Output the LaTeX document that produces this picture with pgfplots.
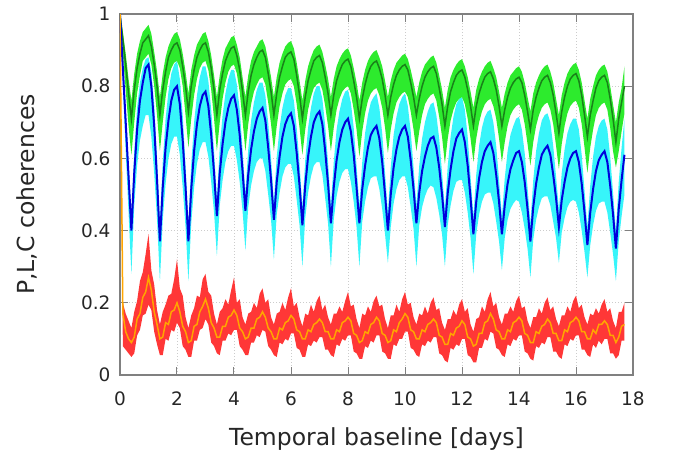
\documentclass[border=0pt]{standalone}
\usepackage{pgfplots}
\pgfplotsset{compat=1.18}
\usepackage{pgfplotstable}
\usepgfplotslibrary{fillbetween}
\usepackage{fontspec}
\setmainfont{DejaVu Sans}

\definecolor{gband}{RGB}{45,235,45}
\definecolor{gline}{RGB}{25,130,25}
\definecolor{cband}{RGB}{55,245,250}
\definecolor{bline}{RGB}{0,0,220}
\definecolor{rband}{RGB}{255,55,55}
\definecolor{oline}{RGB}{255,165,0}

% x, green (mean/low/high), blue (mean/low/high), orange (mean/low/high)
\pgfplotstableread{
x gm glo ghi bm blo bhi om rlo rhi
0.0 1 1 1 1 1 1 1 1 1
0.1 0.93 0.89 0.95 0.85 0.80 0.88 0.17 0.08 0.20
0.2 0.86 0.79 0.89 0.70 0.62 0.74 0.12 0.07 0.17
0.3 0.78 0.69 0.82 0.55 0.45 0.59 0.10 0.06 0.15
0.4 0.71 0.61 0.76 0.40 0.28 0.44 0.09 0.05 0.13
0.5 0.79 0.70 0.835 0.56 0.47 0.62 0.105 0.06 0.175
0.6 0.85 0.78 0.89 0.68 0.58 0.74 0.155 0.11 0.205
0.7 0.89 0.83 0.925 0.76 0.65 0.81 0.17 0.125 0.26
0.8 0.92 0.87 0.95 0.81 0.69 0.85 0.215 0.165 0.285
0.9 0.93 0.88 0.96 0.85 0.72 0.875 0.23 0.17 0.335
1.0 0.94 0.89 0.97 0.86 0.72 0.88 0.27 0.195 0.39
1.1 0.91 0.86 0.945 0.80 0.66 0.84 0.235 0.18 0.29
1.2 0.86 0.80 0.895 0.69 0.56 0.75 0.175 0.12 0.25
1.3 0.80 0.72 0.84 0.54 0.43 0.60 0.14 0.085 0.18
1.4 0.72 0.62 0.77 0.37 0.26 0.42 0.10 0.055 0.14
1.5 0.79 0.70 0.835 0.52 0.43 0.59 0.105 0.055 0.175
1.6 0.84 0.77 0.88 0.63 0.53 0.71 0.145 0.10 0.195
1.7 0.88 0.82 0.91 0.705 0.60 0.785 0.14 0.095 0.22
1.8 0.90 0.85 0.93 0.76 0.64 0.835 0.175 0.125 0.225
1.9 0.915 0.865 0.945 0.79 0.66 0.86 0.18 0.12 0.265
2.0 0.92 0.87 0.95 0.80 0.66 0.87 0.20 0.145 0.32
2.1 0.90 0.85 0.93 0.75 0.61 0.82 0.175 0.13 0.24
2.2 0.855 0.80 0.89 0.65 0.52 0.72 0.135 0.08 0.22
2.3 0.80 0.72 0.84 0.52 0.41 0.58 0.12 0.07 0.16
2.4 0.73 0.63 0.78 0.37 0.26 0.42 0.09 0.05 0.13
2.5 0.80 0.71 0.845 0.515 0.42 0.585 0.095 0.05 0.165
2.6 0.845 0.775 0.885 0.62 0.52 0.70 0.135 0.095 0.185
2.7 0.88 0.82 0.915 0.695 0.585 0.775 0.14 0.095 0.22
2.8 0.90 0.85 0.93 0.745 0.625 0.825 0.175 0.125 0.215
2.9 0.915 0.865 0.945 0.775 0.645 0.855 0.19 0.13 0.265
3.0 0.92 0.87 0.95 0.785 0.645 0.855 0.21 0.155 0.28
3.1 0.895 0.845 0.925 0.745 0.605 0.815 0.185 0.14 0.23
3.2 0.85 0.79 0.885 0.665 0.535 0.735 0.145 0.09 0.22
3.3 0.79 0.71 0.83 0.56 0.45 0.62 0.13 0.08 0.17
3.4 0.72 0.62 0.77 0.44 0.33 0.49 0.105 0.06 0.14
3.5 0.79 0.70 0.83 0.56 0.47 0.63 0.105 0.055 0.175
3.6 0.835 0.765 0.875 0.64 0.54 0.72 0.135 0.095 0.185
3.7 0.87 0.81 0.905 0.70 0.59 0.78 0.135 0.095 0.21
3.8 0.89 0.84 0.92 0.74 0.62 0.82 0.16 0.115 0.195
3.9 0.905 0.855 0.935 0.765 0.635 0.845 0.165 0.11 0.235
4.0 0.91 0.86 0.94 0.775 0.635 0.845 0.18 0.125 0.27
4.1 0.885 0.835 0.915 0.735 0.595 0.805 0.165 0.125 0.20
4.2 0.845 0.785 0.88 0.665 0.535 0.735 0.13 0.08 0.21
4.3 0.785 0.705 0.825 0.565 0.455 0.625 0.12 0.07 0.16
4.4 0.72 0.62 0.77 0.455 0.345 0.505 0.10 0.055 0.14
4.5 0.785 0.695 0.83 0.555 0.465 0.625 0.105 0.055 0.17
4.6 0.83 0.75 0.87 0.625 0.525 0.705 0.13 0.09 0.175
4.7 0.86 0.785 0.895 0.675 0.565 0.755 0.13 0.09 0.20
4.8 0.88 0.805 0.91 0.71 0.59 0.79 0.155 0.11 0.185
4.9 0.895 0.82 0.925 0.73 0.60 0.81 0.16 0.105 0.225
5.0 0.90 0.825 0.93 0.74 0.60 0.81 0.175 0.125 0.24
5.1 0.88 0.805 0.91 0.705 0.565 0.775 0.16 0.12 0.20
5.2 0.835 0.755 0.87 0.63 0.50 0.70 0.13 0.08 0.21
5.3 0.785 0.695 0.825 0.54 0.43 0.60 0.12 0.07 0.16
5.4 0.72 0.62 0.77 0.43 0.32 0.48 0.10 0.055 0.14
5.5 0.78 0.69 0.825 0.535 0.445 0.605 0.10 0.05 0.17
5.6 0.825 0.745 0.865 0.605 0.505 0.685 0.13 0.09 0.175
5.7 0.855 0.78 0.89 0.66 0.55 0.74 0.125 0.085 0.20
5.8 0.88 0.805 0.91 0.695 0.575 0.775 0.145 0.10 0.18
5.9 0.89 0.815 0.92 0.715 0.585 0.795 0.15 0.095 0.215
6.0 0.895 0.82 0.925 0.725 0.585 0.795 0.165 0.115 0.24
6.1 0.875 0.80 0.905 0.69 0.55 0.76 0.155 0.115 0.19
6.2 0.83 0.75 0.865 0.615 0.485 0.685 0.125 0.075 0.20
6.3 0.775 0.685 0.815 0.525 0.415 0.585 0.12 0.07 0.16
6.4 0.71 0.61 0.76 0.415 0.30 0.465 0.10 0.05 0.135
6.5 0.77 0.68 0.815 0.525 0.435 0.595 0.10 0.05 0.17
6.6 0.815 0.735 0.855 0.605 0.505 0.685 0.125 0.085 0.165
6.7 0.845 0.77 0.88 0.66 0.55 0.74 0.12 0.08 0.195
6.8 0.87 0.795 0.90 0.70 0.58 0.78 0.14 0.095 0.175
6.9 0.88 0.805 0.91 0.72 0.59 0.80 0.145 0.09 0.205
7.0 0.885 0.81 0.915 0.73 0.59 0.80 0.155 0.105 0.22
7.1 0.865 0.79 0.895 0.695 0.555 0.765 0.145 0.105 0.18
7.2 0.825 0.745 0.86 0.62 0.49 0.69 0.12 0.07 0.195
7.3 0.78 0.69 0.82 0.53 0.42 0.59 0.12 0.07 0.16
7.4 0.72 0.62 0.77 0.42 0.30 0.47 0.10 0.055 0.14
7.5 0.775 0.685 0.82 0.52 0.43 0.59 0.10 0.05 0.17
7.6 0.815 0.735 0.855 0.595 0.495 0.68 0.125 0.085 0.17
7.7 0.84 0.765 0.875 0.645 0.535 0.73 0.12 0.08 0.19
7.8 0.86 0.785 0.89 0.68 0.56 0.765 0.145 0.10 0.175
7.9 0.87 0.795 0.90 0.70 0.57 0.785 0.15 0.095 0.205
8.0 0.875 0.80 0.905 0.71 0.57 0.79 0.16 0.11 0.23
8.1 0.855 0.78 0.885 0.675 0.535 0.755 0.15 0.11 0.19
8.2 0.815 0.735 0.85 0.61 0.48 0.685 0.115 0.065 0.195
8.3 0.77 0.68 0.81 0.52 0.41 0.58 0.11 0.06 0.155
8.4 0.71 0.605 0.76 0.42 0.30 0.47 0.09 0.045 0.13
8.5 0.765 0.675 0.81 0.515 0.425 0.59 0.095 0.045 0.17
8.6 0.805 0.725 0.845 0.58 0.48 0.67 0.12 0.08 0.165
8.7 0.835 0.76 0.87 0.63 0.52 0.72 0.115 0.075 0.19
8.8 0.855 0.78 0.885 0.665 0.545 0.755 0.14 0.095 0.175
8.9 0.865 0.79 0.895 0.68 0.55 0.77 0.145 0.09 0.205
9.0 0.87 0.795 0.90 0.69 0.55 0.78 0.16 0.11 0.22
9.1 0.85 0.775 0.88 0.655 0.515 0.74 0.15 0.11 0.19
9.2 0.82 0.74 0.855 0.59 0.46 0.67 0.115 0.065 0.195
9.3 0.775 0.685 0.815 0.50 0.39 0.56 0.11 0.06 0.155
9.4 0.72 0.615 0.77 0.40 0.31 0.45 0.09 0.045 0.13
9.5 0.77 0.68 0.815 0.50 0.41 0.575 0.095 0.045 0.165
9.6 0.805 0.725 0.845 0.575 0.475 0.665 0.125 0.085 0.165
9.7 0.83 0.755 0.865 0.625 0.515 0.715 0.12 0.08 0.195
9.8 0.845 0.77 0.875 0.66 0.54 0.75 0.145 0.10 0.175
9.9 0.855 0.78 0.885 0.68 0.55 0.77 0.155 0.10 0.21
10.0 0.86 0.785 0.89 0.69 0.55 0.78 0.17 0.12 0.23
10.1 0.845 0.77 0.875 0.66 0.52 0.745 0.16 0.12 0.195
10.2 0.81 0.73 0.845 0.595 0.465 0.675 0.125 0.075 0.20
10.3 0.77 0.68 0.81 0.515 0.405 0.575 0.12 0.07 0.16
10.4 0.72 0.62 0.77 0.42 0.30 0.47 0.10 0.055 0.14
10.5 0.765 0.675 0.81 0.505 0.415 0.58 0.10 0.05 0.17
10.6 0.80 0.72 0.84 0.565 0.465 0.655 0.125 0.085 0.165
10.7 0.825 0.75 0.86 0.605 0.495 0.70 0.12 0.08 0.19
10.8 0.84 0.765 0.87 0.635 0.515 0.73 0.14 0.095 0.17
10.9 0.85 0.775 0.88 0.655 0.525 0.75 0.145 0.09 0.20
11.0 0.855 0.78 0.885 0.66 0.52 0.755 0.155 0.105 0.215
11.1 0.835 0.76 0.865 0.63 0.49 0.72 0.145 0.105 0.18
11.2 0.795 0.715 0.83 0.575 0.445 0.655 0.11 0.06 0.185
11.3 0.75 0.66 0.79 0.50 0.39 0.56 0.105 0.055 0.145
11.4 0.69 0.585 0.74 0.41 0.30 0.46 0.085 0.04 0.125
11.5 0.745 0.655 0.79 0.505 0.415 0.58 0.085 0.035 0.155
11.6 0.785 0.705 0.825 0.57 0.47 0.66 0.115 0.075 0.155
11.7 0.81 0.735 0.845 0.62 0.51 0.715 0.11 0.07 0.18
11.8 0.83 0.755 0.86 0.655 0.535 0.75 0.13 0.085 0.165
11.9 0.84 0.765 0.87 0.67 0.54 0.765 0.135 0.08 0.195
12.0 0.845 0.77 0.875 0.68 0.54 0.77 0.15 0.10 0.21
12.1 0.825 0.75 0.855 0.645 0.505 0.735 0.14 0.10 0.175
12.2 0.79 0.71 0.825 0.58 0.45 0.66 0.105 0.055 0.185
12.3 0.745 0.655 0.785 0.49 0.38 0.55 0.10 0.05 0.14
12.4 0.69 0.59 0.74 0.39 0.28 0.44 0.08 0.035 0.12
12.5 0.745 0.655 0.79 0.48 0.39 0.555 0.085 0.035 0.155
12.6 0.78 0.70 0.82 0.545 0.445 0.635 0.115 0.075 0.16
12.7 0.805 0.73 0.84 0.59 0.48 0.685 0.115 0.075 0.19
12.8 0.825 0.75 0.855 0.62 0.50 0.715 0.145 0.10 0.175
12.9 0.835 0.76 0.865 0.635 0.505 0.73 0.15 0.095 0.21
13.0 0.84 0.765 0.87 0.645 0.505 0.735 0.17 0.12 0.23
13.1 0.82 0.745 0.85 0.615 0.475 0.70 0.155 0.115 0.19
13.2 0.79 0.71 0.825 0.555 0.425 0.635 0.125 0.075 0.20
13.3 0.745 0.655 0.785 0.48 0.37 0.54 0.12 0.07 0.16
13.4 0.69 0.59 0.74 0.39 0.29 0.44 0.10 0.055 0.14
13.5 0.735 0.645 0.78 0.47 0.38 0.545 0.10 0.05 0.17
13.6 0.77 0.69 0.81 0.53 0.43 0.62 0.125 0.085 0.17
13.7 0.795 0.72 0.83 0.57 0.46 0.665 0.12 0.08 0.19
13.8 0.81 0.735 0.84 0.595 0.475 0.69 0.145 0.10 0.175
13.9 0.82 0.745 0.85 0.615 0.485 0.71 0.15 0.095 0.205
14.0 0.825 0.75 0.855 0.62 0.48 0.715 0.16 0.11 0.22
14.1 0.81 0.735 0.84 0.59 0.45 0.68 0.15 0.11 0.185
14.2 0.775 0.695 0.81 0.535 0.405 0.615 0.115 0.065 0.19
14.3 0.73 0.64 0.77 0.46 0.35 0.52 0.11 0.06 0.15
14.4 0.68 0.58 0.73 0.37 0.27 0.42 0.09 0.045 0.13
14.5 0.735 0.645 0.78 0.465 0.375 0.54 0.09 0.04 0.16
14.6 0.77 0.69 0.81 0.53 0.43 0.62 0.12 0.08 0.16
14.7 0.795 0.72 0.83 0.575 0.465 0.67 0.115 0.075 0.185
14.8 0.815 0.74 0.845 0.61 0.49 0.705 0.135 0.09 0.17
14.9 0.825 0.75 0.855 0.625 0.495 0.72 0.14 0.085 0.20
15.0 0.83 0.755 0.86 0.635 0.495 0.725 0.155 0.105 0.215
15.1 0.81 0.735 0.84 0.61 0.47 0.70 0.145 0.105 0.18
15.2 0.775 0.695 0.81 0.555 0.425 0.635 0.115 0.065 0.19
15.3 0.725 0.635 0.765 0.49 0.38 0.55 0.115 0.065 0.155
15.4 0.67 0.57 0.72 0.41 0.31 0.46 0.095 0.05 0.135
15.5 0.73 0.64 0.775 0.485 0.395 0.56 0.095 0.045 0.165
15.6 0.77 0.69 0.81 0.535 0.435 0.625 0.125 0.085 0.165
15.7 0.80 0.725 0.835 0.575 0.465 0.67 0.12 0.08 0.19
15.8 0.82 0.745 0.85 0.60 0.48 0.695 0.145 0.10 0.175
15.9 0.83 0.755 0.86 0.615 0.485 0.71 0.15 0.095 0.205
16.0 0.835 0.76 0.865 0.62 0.48 0.71 0.16 0.11 0.22
16.1 0.815 0.74 0.845 0.59 0.45 0.68 0.15 0.11 0.185
16.2 0.775 0.695 0.81 0.53 0.40 0.61 0.12 0.07 0.195
16.3 0.72 0.63 0.76 0.45 0.34 0.51 0.12 0.07 0.16
16.4 0.66 0.56 0.71 0.36 0.27 0.41 0.10 0.055 0.14
16.5 0.72 0.63 0.765 0.45 0.36 0.525 0.10 0.05 0.17
16.6 0.76 0.68 0.80 0.515 0.415 0.605 0.125 0.085 0.165
16.7 0.795 0.72 0.83 0.565 0.455 0.66 0.115 0.075 0.185
16.8 0.815 0.74 0.845 0.595 0.475 0.69 0.14 0.095 0.17
16.9 0.825 0.75 0.855 0.61 0.48 0.705 0.14 0.085 0.195
17.0 0.83 0.755 0.86 0.62 0.48 0.71 0.15 0.10 0.21
17.1 0.81 0.735 0.84 0.59 0.45 0.68 0.14 0.10 0.175
17.2 0.765 0.685 0.80 0.525 0.395 0.605 0.11 0.06 0.185
17.3 0.71 0.62 0.75 0.445 0.335 0.505 0.11 0.06 0.15
17.4 0.645 0.575 0.70 0.35 0.26 0.40 0.09 0.045 0.13
17.5 0.71 0.62 0.755 0.46 0.37 0.535 0.105 0.055 0.175
17.6 0.755 0.675 0.795 0.54 0.44 0.63 0.135 0.095 0.175
17.7 0.80 0.725 0.855 0.61 0.50 0.71 0.14 0.095 0.20
}\data

\begin{document}
\begin{tikzpicture}
\begin{axis}[
    at={(0pt,0pt)}, anchor=south west,
    scale only axis,
    width=513pt, height=361pt,
    xmin=0, xmax=18, ymin=0, ymax=1,
    xtick={0,2,...,18},
    ytick={0,0.2,0.4,0.6,0.8,1},
    /pgf/number format/assume math mode=true,
    tick label style={font=\fontsize{18.5}{20}\selectfont, text=black!85},
    yticklabel style={xshift=-6pt},
    xticklabel style={yshift=-13pt},
    tick align=inside,
    major tick length=8pt,
    tick style={gray, line width=1pt},
    axis line style={gray, line width=1.1pt},
    grid=major,
    major grid style={gray!40, line width=0.8pt, dash pattern=on 1pt off 2pt},
    xlabel={Temporal baseline [days]},
    ylabel={P,L,C coherences},
    label style={font=\fontsize{23.5}{26}\selectfont, text=black!85},
    x label style={at={(axis description cs:0.5,0)}, anchor=base, yshift=-71pt},
    y label style={at={(axis description cs:-0.1676,0.5)}, anchor=base},
]
\addplot[draw=none, name path=bhi, forget plot] table[x=x, y=bhi] {\data};
\addplot[draw=none, name path=blo, forget plot] table[x=x, y=blo] {\data};
\addplot[draw=none, name path=ghi, forget plot] table[x=x, y=ghi] {\data};
\addplot[draw=none, name path=glo, forget plot] table[x=x, y=glo] {\data};
\addplot[draw=none, name path=rhi, forget plot] table[x=x, y=rhi] {\data};
\addplot[draw=none, name path=rlo, forget plot] table[x=x, y=rlo] {\data};
\addplot[fill=cband, draw=none] fill between[of=bhi and blo];
\addplot[fill=gband, draw=none] fill between[of=ghi and glo];
\addplot[fill=rband, draw=none] fill between[of=rhi and rlo];
\addplot[gline, line width=1.5pt] table[x=x, y=gm] {\data};
\addplot[bline, line width=2pt] table[x=x, y=bm] {\data};
\addplot[oline, line width=1.5pt] table[x=x, y=om] {\data};
\end{axis}
\pgfresetboundingbox
\path[use as bounding box] (-120pt,-80pt) rectangle (553pt,375pt);
\end{tikzpicture}
\end{document}
